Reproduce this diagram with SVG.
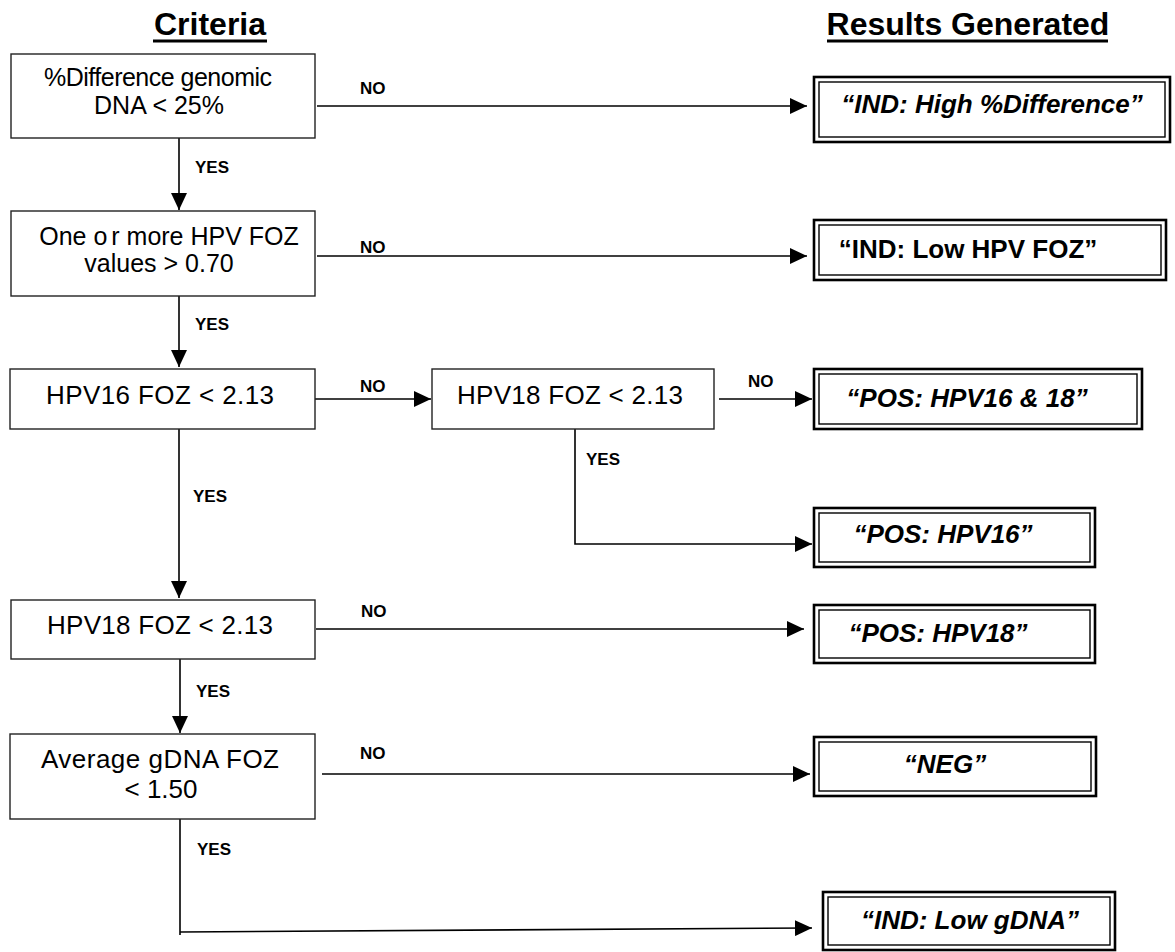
<svg xmlns="http://www.w3.org/2000/svg" width="1175" height="952" viewBox="0 0 1175 952">
<defs>
<marker id="ah" markerUnits="userSpaceOnUse" markerWidth="17" markerHeight="16" refX="17" refY="8" orient="auto">
<path d="M0,0 L17,8 L0,16 Z" fill="#000"/>
</marker>
</defs>
<style>
text{font-family:"Liberation Sans",Arial,sans-serif;fill:#000}
.hdr{font-size:32px;font-weight:bold;text-anchor:middle}
.crit{fill:#fff;stroke:#222;stroke-width:1.4}
.ct{font-size:25px;text-anchor:middle}
.ct26{font-size:26px;text-anchor:middle}
.lbl{font-size:17px;font-weight:bold}
.outer{fill:#fff;stroke:#000;stroke-width:2.6}
.inner{fill:none;stroke:#000;stroke-width:1.4}
.rt{font-size:26px;font-weight:bold;font-style:italic;text-anchor:middle}
.rtu{font-size:26px;font-weight:bold;text-anchor:middle}
.conn{fill:none;stroke:#000;stroke-width:1.6}
.ul{stroke:#000;stroke-width:3}
</style>

<g id="headers">
<text class="hdr" x="210" y="35">Criteria</text>
<line class="ul" x1="153" y1="41" x2="267" y2="41"/>
<text class="hdr" x="968" y="35">Results Generated</text>
<line class="ul" x1="827" y1="41" x2="1108" y2="41"/>
</g>

<g id="connectors">
<path class="conn" d="M179,138 V210" marker-end="url(#ah)"/>
<path class="conn" d="M179,296 V367" marker-end="url(#ah)"/>
<path class="conn" d="M179,429 V598" marker-end="url(#ah)"/>
<path class="conn" d="M180,659 V733" marker-end="url(#ah)"/>
<path class="conn" d="M180,819 V935"/>
<path class="conn" d="M180,932 L812,928" marker-end="url(#ah)"/>
<path class="conn" d="M317,106 H807" marker-end="url(#ah)"/>
<path class="conn" d="M317,256 H807" marker-end="url(#ah)"/>
<path class="conn" d="M315,399 H431" marker-end="url(#ah)"/>
<path class="conn" d="M719,399 H812" marker-end="url(#ah)"/>
<path class="conn" d="M575,429 V544 H812" marker-end="url(#ah)"/>
<path class="conn" d="M316,629 H804" marker-end="url(#ah)"/>
<path class="conn" d="M322,774 H810" marker-end="url(#ah)"/>
</g>

<g id="labels">
<text class="lbl" x="360" y="94">NO</text>
<text class="lbl" x="195" y="173">YES</text>
<text class="lbl" x="360" y="253">NO</text>
<text class="lbl" x="195" y="330">YES</text>
<text class="lbl" x="360" y="392">NO</text>
<text class="lbl" x="748" y="387">NO</text>
<text class="lbl" x="586" y="465">YES</text>
<text class="lbl" x="193" y="502">YES</text>
<text class="lbl" x="361" y="617">NO</text>
<text class="lbl" x="196" y="697">YES</text>
<text class="lbl" x="360" y="759">NO</text>
<text class="lbl" x="197" y="855">YES</text>
</g>

<g id="c1">
<rect class="crit" x="11" y="54" width="304" height="84"/>
<text class="ct" x="158" y="86" textLength="228">%Difference genomic</text>
<text class="ct" x="159" y="114">DNA &lt; 25%</text>
</g>
<g id="c2">
<rect class="crit" x="11" y="211" width="304" height="85"/>
<text class="ct" x="169" y="245">One o<tspan dx="4">r more HPV FOZ</tspan></text>
<text class="ct" x="159" y="272">values &gt; 0.70</text>
</g>
<g id="c3">
<rect class="crit" x="10" y="369" width="305" height="60"/>
<text class="ct26" x="160" y="404" textLength="228">HPV16 FOZ &lt; 2.13</text>
</g>
<g id="c4">
<rect class="crit" x="432" y="369" width="282" height="60"/>
<text class="ct26" x="570" y="404" textLength="226">HPV18 FOZ &lt; 2.13</text>
</g>
<g id="c5">
<rect class="crit" x="11" y="600" width="304" height="59"/>
<text class="ct26" x="160" y="634" textLength="226">HPV18 FOZ &lt; 2.13</text>
</g>
<g id="c6">
<rect class="crit" x="10" y="734" width="305" height="85"/>
<text class="ct26" x="160" y="768" textLength="238">Average gDNA FOZ</text>
<text class="ct26" x="161" y="798">&lt; 1.50</text>
</g>

<g id="r1">
<rect class="outer" x="814" y="77" width="356" height="65"/>
<rect class="inner" x="819" y="82" width="346" height="55"/>
<text class="rt" x="992" y="113">“IND: High %Difference”</text>
</g>
<g id="r2">
<rect class="outer" x="814" y="220" width="352" height="60"/>
<rect class="inner" x="819" y="225" width="342" height="50"/>
<text class="rtu" x="968" y="258">“IND: Low HPV FOZ”</text>
</g>
<g id="r3">
<rect class="outer" x="814" y="369" width="328" height="60"/>
<rect class="inner" x="819" y="374" width="318" height="50"/>
<text class="rt" x="967" y="407">“POS: HPV16 &amp; 18”</text>
</g>
<g id="r4">
<rect class="outer" x="814" y="508" width="281" height="59"/>
<rect class="inner" x="819" y="513" width="271" height="49"/>
<text class="rt" x="943" y="543">“POS: HPV16”</text>
</g>
<g id="r5">
<rect class="outer" x="814" y="605" width="281" height="58"/>
<rect class="inner" x="819" y="610" width="271" height="48"/>
<text class="rt" x="938" y="642">“POS: HPV18”</text>
</g>
<g id="r6">
<rect class="outer" x="814" y="737" width="282" height="59"/>
<rect class="inner" x="819" y="742" width="272" height="49"/>
<text class="rt" x="945" y="773">“NEG”</text>
</g>
<g id="r7">
<rect class="outer" x="823" y="892" width="292" height="58"/>
<rect class="inner" x="828" y="897" width="282" height="48"/>
<text class="rt" x="970" y="929">“IND: Low gDNA”</text>
</g>
</svg>
